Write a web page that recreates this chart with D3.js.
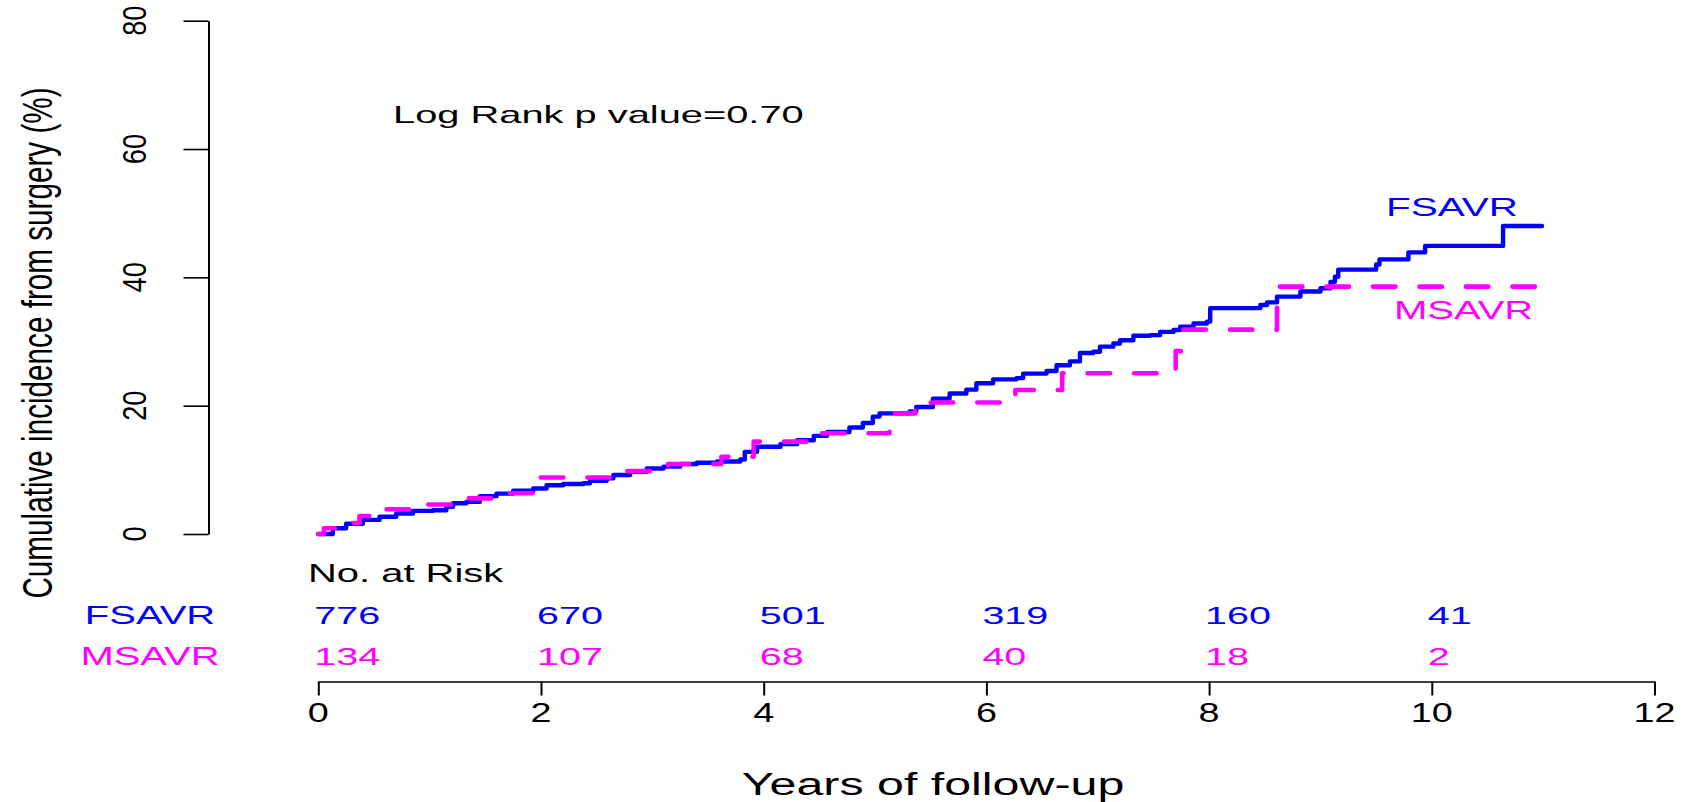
<!DOCTYPE html>
<html>
<head>
<meta charset="utf-8">
<script src="https://cdn.jsdelivr.net/npm/d3@7"></script>
<style>
  html, body { margin: 0; padding: 0; background: #ffffff; }
  svg { display: block; }
  text { font-family: "Liberation Sans", Arial, Helvetica, sans-serif; }
</style>
</head>
<body>
<svg id="chart" width="1686" height="802"></svg>
<script>
// ---------------- data ----------------
const xTicks = [0, 2, 4, 6, 8, 10, 12];
const yTicks = [0, 20, 40, 60, 80];
const seriesNames = ["FSAVR", "MSAVR"];
const seriesColors = ["#0000FF", "#FF00FF"];
const riskTimes = [0, 2, 4, 6, 8, 10];
const riskFSAVR = [776, 670, 501, 319, 160, 41];
const riskMSAVR = [134, 107, 68, 40, 18, 2];

// cumulative incidence (%) step points: [years, percent]
const fsavrSteps = [
  [0, 0], [0.13, 0.9], [0.25, 1.6], [0.40, 2.2], [0.55, 2.7], [0.70, 3.2], [0.85, 3.6],
  [1.03, 3.7], [1.15, 4.25], [1.21, 4.8], [1.33, 5.0], [1.45, 5.9], [1.60, 6.3], [1.75, 6.75],
  [1.93, 7.1], [2.05, 7.6], [2.20, 7.8], [2.38, 7.9], [2.44, 8.3], [2.59, 8.7], [2.65, 9.2],
  [2.80, 9.7], [2.95, 10.2], [3.10, 10.5], [3.25, 10.9], [3.40, 11.1], [3.58, 11.3],
  [3.79, 11.6], [3.83, 12.8], [3.94, 13.6], [4.15, 14.0], [4.30, 14.6], [4.45, 15.3],
  [4.57, 15.9], [4.77, 16.6], [4.89, 17.3], [4.98, 18.3], [5.04, 18.8], [5.31, 19.1],
  [5.37, 19.8], [5.52, 21.1], [5.67, 21.9], [5.82, 22.5], [5.91, 23.5], [6.06, 24.1],
  [6.27, 24.3], [6.33, 25.0], [6.54, 25.4], [6.63, 26.3], [6.75, 26.9], [6.84, 28.2],
  [6.96, 28.4], [7.02, 29.2], [7.14, 29.7], [7.20, 30.2], [7.32, 30.9], [7.47, 31.0],
  [7.56, 31.5], [7.68, 31.8], [7.74, 32.3], [7.86, 32.8], [7.98, 33.1], [8.01, 35.2],
  [8.46, 35.7], [8.52, 36.1], [8.61, 37.0], [8.82, 37.8], [9.00, 38.3], [9.09, 39.3],
  [9.13, 40.1], [9.16, 41.2], [9.50, 42.0], [9.53, 42.8], [9.79, 43.9], [9.94, 44.9],
  [10.64, 48.0], [10.99, 48.0]
];
const msavrSteps = [
  [0, 0], [0.05, 0.9], [0.19, 1.7], [0.37, 2.8], [0.57, 3.85], [0.84, 4.6], [1.35, 5.55],
  [1.60, 6.35], [1.95, 8.8], [2.63, 9.8], [3.14, 10.9], [3.62, 12.05], [3.91, 14.4],
  [4.45, 15.7], [5.13, 18.8], [5.36, 20.5], [6.26, 22.45], [6.68, 25.05], [7.70, 28.5],
  [7.75, 31.85], [8.61, 38.55], [11.0, 38.55]
];

const title = "Log Rank p value=0.70";
const yTitle = "Cumulative incidence from surgery (%)";
const xTitle = "Years of follow-up";
const riskTitle = "No. at Risk";

// ---------------- drawing ----------------
const svg = d3.select("#chart");
const x = d3.scaleLinear().domain([0, 12]).range([318.3, 1654.5]);
const y = d3.scaleLinear().domain([0, 80]).range([534, 20.7]);
const yAxisX = 208.5;
const xAxisY = 681.5;

// y axis
const gy = svg.append("g")
  .attr("transform", `translate(${yAxisX},0)`)
  .call(d3.axisLeft(y).tickValues(yTicks).tickSize(25).tickSizeOuter(0).tickFormat(""));
gy.select(".domain").attr("stroke", "#000").attr("stroke-width", 2);
gy.selectAll(".tick line").attr("stroke", "#000").attr("stroke-width", 1.6);

svg.append("g").selectAll("text").data(yTicks).join("text")
  .attr("transform", d => `translate(146,${y(d)}) rotate(-90) scale(0.8,1)`)
  .attr("text-anchor", "middle")
  .attr("font-size", 34)
  .attr("fill", "#000")
  .text(d => d);

// x axis
const gx = svg.append("g")
  .attr("transform", `translate(0,${xAxisY})`)
  .call(d3.axisBottom(x).tickValues(xTicks).tickSize(14).tickSizeOuter(0).tickFormat(""));
gx.select(".domain").attr("stroke", "#000").attr("stroke-width", 1.7);
gx.selectAll(".tick line").attr("stroke", "#000").attr("stroke-width", 2);

svg.append("g").selectAll("text").data(xTicks).join("text")
  .attr("transform", d => `translate(${x(d)},722) scale(1.4,1)`)
  .attr("text-anchor", "middle")
  .attr("font-size", 27)
  .attr("fill", "#000")
  .text(d => d);

// axis titles
svg.append("text")
  .attr("transform", "translate(52,343) rotate(-90) scale(0.69,1)")
  .attr("text-anchor", "middle")
  .attr("font-size", 43)
  .attr("fill", "#000")
  .text(yTitle);

svg.append("text")
  .attr("transform", "translate(933,795) scale(1.56,1)")
  .attr("text-anchor", "middle")
  .attr("font-size", 31)
  .attr("fill", "#000")
  .text(xTitle);

// log rank annotation
svg.append("text")
  .attr("transform", "translate(393,123) scale(1.66,1)")
  .attr("font-size", 24)
  .attr("fill", "#000")
  .text(title);

// curves
const line = d3.line()
  .x(d => x(d[0]))
  .y(d => y(d[1]))
  .curve(d3.curveStepAfter);

svg.append("path")
  .datum(fsavrSteps)
  .attr("d", line)
  .attr("fill", "none")
  .attr("stroke", seriesColors[0])
  .attr("stroke-width", 4.4)
  .attr("stroke-linejoin", "round")
  .attr("stroke-linecap", "round");

svg.append("path")
  .datum(msavrSteps)
  .attr("d", line)
  .attr("fill", "none")
  .attr("stroke", seriesColors[1])
  .attr("stroke-width", 4.6)
  .attr("stroke-dasharray", "22.5,24")
  .attr("stroke-linejoin", "round")
  .attr("stroke-linecap", "round");

// curve labels
svg.append("text")
  .attr("transform", "translate(1386,216) scale(1.62,1)")
  .attr("font-size", 25)
  .attr("fill", seriesColors[0])
  .text(seriesNames[0]);
svg.append("text")
  .attr("transform", "translate(1394,319) scale(1.6,1)")
  .attr("font-size", 25)
  .attr("fill", seriesColors[1])
  .text(seriesNames[1]);

// risk table
svg.append("text")
  .attr("transform", "translate(308,582) scale(1.56,1)")
  .attr("font-size", 25.6)
  .attr("fill", "#000")
  .text(riskTitle);

const rowBaselines = [624, 665];
seriesNames.forEach((name, i) => {
  svg.append("text")
    .attr("transform", `translate(150,${rowBaselines[i]}) scale(1.6,1)`)
    .attr("text-anchor", "middle")
    .attr("font-size", 25)
    .attr("fill", seriesColors[i])
    .text(name);
});

[riskFSAVR, riskMSAVR].forEach((vals, i) => {
  svg.append("g").selectAll("text").data(vals).join("text")
    .attr("transform", (d, j) => `translate(${x(riskTimes[j]) - 4},${rowBaselines[i]}) scale(1.6,1)`)
    .attr("font-size", 24.7)
    .attr("fill", seriesColors[i])
    .text(d => d);
});
</script>
</body>
</html>
